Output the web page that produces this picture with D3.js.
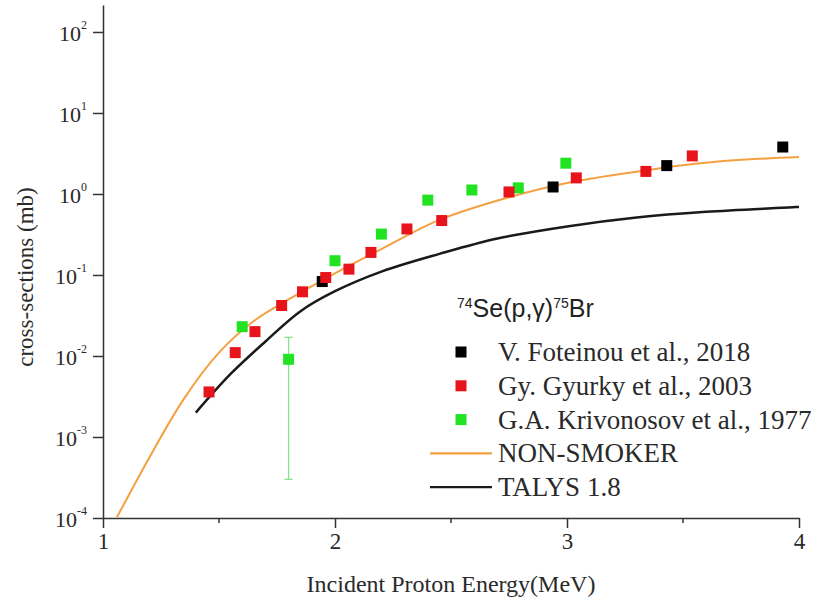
<!DOCTYPE html>
<html>
<head>
<meta charset="utf-8">
<script src="https://cdn.jsdelivr.net/npm/d3@7"></script>
<style>
  body { margin: 0; background: #fff; }
  svg { display: block; }
  .axis path, .axis line { stroke: #333; stroke-width: 1.5; }
  .axis text { font-family: "Liberation Serif", serif; fill: #2a2a2a; }
</style>
</head>
<body>
<div class="container"></div>
<script>
// V. Foteinou et al., 2018
var fotEnergy = [1.945, 2.94, 3.43, 3.93];
var fotSigma = [0.083, 1.22, 2.24, 3.8];
// Gy. Gyurky et al., 2003
var gyuEnergy = [1.457, 1.57, 1.655, 1.77, 1.86, 1.96, 2.06, 2.155, 2.31, 2.46, 2.75, 3.04, 3.34, 3.54];
var gyuSigma = [0.0036, 0.011, 0.020, 0.042, 0.062, 0.093, 0.118, 0.19, 0.37, 0.47, 1.06, 1.58, 1.9, 2.95];
// G.A. Krivonosov et al., 1977
var kriEnergy = [1.60, 1.80, 2.0, 2.20, 2.40, 2.59, 2.79, 2.995];
var kriSigma = [0.023, 0.0091, 0.15, 0.32, 0.84, 1.12, 1.19, 2.4];
var kriErrLow = [null, 0.0003, null, null, null, null, null, null];
var kriErrHigh = [null, 0.017, null, null, null, null, null, null];
// model curves
var nonSmokerEnergy = [1.06, 1.2, 1.35, 1.5, 1.65, 1.8, 2.0, 2.2, 2.45, 2.75, 3.0, 3.35, 3.65, 4.0];
var nonSmokerSigma = [1.02e-4, 5.6e-4, 3.0e-3, 0.011, 0.027, 0.050, 0.105, 0.209, 0.479, 0.912, 1.37, 1.98, 2.51, 2.86];
var talysEnergy = [1.40, 1.55, 1.70, 1.85, 2.0, 2.2, 2.45, 2.7, 3.0, 3.3, 3.6, 4.0];
var talysSigma = [0.0020, 0.0060, 0.0151, 0.0355, 0.063, 0.110, 0.182, 0.282, 0.398, 0.513, 0.603, 0.692];

var xTicks = [1, 2, 3, 4];
var xMinorTicks = [1.5, 2.5, 3.5];
var yExponents = [-4, -3, -2, -1, 0, 1, 2];

const WIDTH = 818;
const HEIGHT = 606;
const LEFT = 103, RIGHT = 799, TOP = 5, BOTTOM = 518;
const BLACK = '#000', RED = '#e8141b', GREEN = '#21e321';
const ORANGE = '#f5a040', DARK = '#1a1a1a';

var zip = function (xs, ys) {
    return xs.map(function (x, i) { return {x: x, y: ys[i], i: i}; });
};

var svg = d3.select('.container').append('svg')
    .attr('width', WIDTH)
    .attr('height', HEIGHT);

var xScale = d3.scaleLinear().domain([1, 4]).range([LEFT, RIGHT]);
var yScale = d3.scaleLog().domain([1e-4, Math.pow(10, 2.333)]).range([BOTTOM, TOP]);

// axes
var xAxis = svg.append('g').classed('axis', true)
    .attr('transform', 'translate(0,' + BOTTOM + ')')
    .call(d3.axisBottom(xScale).tickValues(xTicks).tickSize(10).tickSizeOuter(0).tickFormat(d3.format('d')));
xAxis.selectAll('text').attr('font-size', 23).attr('y', 14).attr('dy', '0.75em');

xAxis.selectAll('.minor')
    .data(xMinorTicks)
    .enter().append('line')
    .classed('minor', true)
    .attr('x1', function (d) { return xScale(d); })
    .attr('x2', function (d) { return xScale(d); })
    .attr('y1', 0).attr('y2', 5);

var yAxis = svg.append('g').classed('axis', true)
    .attr('transform', 'translate(' + LEFT + ',0)')
    .call(d3.axisLeft(yScale)
        .tickValues(yExponents.map(function (e) { return Math.pow(10, e); }))
        .tickSize(10).tickSizeOuter(0).tickFormat(''));

yAxis.selectAll('.tick').each(function (d) {
    var t = d3.select(this).append('text')
        .attr('x', -16).attr('dy', '0.38em')
        .attr('text-anchor', 'end')
        .attr('font-size', 22);
    t.append('tspan').text('10');
    t.append('tspan').attr('font-size', 12).attr('dy', '-0.95em').text(Math.round(Math.log10(d)));
});

svg.append('text')
    .attr('transform', 'translate(33,' + 277 + ') rotate(-90)')
    .attr('text-anchor', 'middle')
    .attr('font-family', '"Liberation Serif", serif')
    .attr('font-size', 23)
    .attr('fill', '#2a2a2a')
    .text('cross-sections (mb)');

svg.append('text')
    .attr('x', (LEFT + RIGHT) / 2)
    .attr('y', 592)
    .attr('text-anchor', 'middle')
    .attr('font-family', '"Liberation Serif", serif')
    .attr('font-size', 24)
    .attr('fill', '#2a2a2a')
    .text('Incident Proton Energy(MeV)');

// model curves
var line = d3.line()
    .x(function (d) { return xScale(d.x); })
    .y(function (d) { return yScale(d.y); })
    .curve(d3.curveCatmullRom.alpha(0.5));

svg.append('path')
    .datum(zip(nonSmokerEnergy, nonSmokerSigma))
    .attr('d', line)
    .attr('fill', 'none')
    .attr('stroke', ORANGE)
    .attr('stroke-width', 2);

svg.append('path')
    .datum(zip(talysEnergy, talysSigma))
    .attr('d', line)
    .attr('fill', 'none')
    .attr('stroke', DARK)
    .attr('stroke-width', 2.5);

// error bars
var errs = zip(kriEnergy, kriSigma).filter(function (d) { return kriErrLow[d.i] != null; });
var errG = svg.append('g').attr('stroke', '#8be08b').attr('stroke-width', 1.3);
errs.forEach(function (d) {
    var cx = xScale(d.x), lo = yScale(kriErrLow[d.i]), hi = yScale(kriErrHigh[d.i]);
    errG.append('line').attr('x1', cx).attr('x2', cx).attr('y1', lo).attr('y2', hi);
    errG.append('line').attr('x1', cx - 4).attr('x2', cx + 4).attr('y1', lo).attr('y2', lo);
    errG.append('line').attr('x1', cx - 4).attr('x2', cx + 4).attr('y1', hi).attr('y2', hi);
});

var SQ = 11;
var addSquares = function (points, color) {
    svg.append('g').selectAll('rect')
        .data(points)
        .enter().append('rect')
        .attr('x', function (d) { return xScale(d.x) - SQ / 2; })
        .attr('y', function (d) { return yScale(d.y) - SQ / 2; })
        .attr('width', SQ).attr('height', SQ)
        .attr('fill', color);
};
addSquares(zip(kriEnergy, kriSigma), GREEN);
addSquares(zip(fotEnergy, fotSigma), BLACK);
addSquares(zip(gyuEnergy, gyuSigma), RED);

// legend
var legend = svg.append('g');
var title = legend.append('text')
    .attr('x', 457).attr('y', 317)
    .attr('font-family', '"Liberation Sans", Arial, sans-serif')
    .attr('font-size', 25)
    .attr('fill', '#222');
title.append('tspan').attr('font-size', 14).attr('dy', -9).text('74');
title.append('tspan').attr('dy', 9).text('Se(p,\u03b3)');
title.append('tspan').attr('font-size', 14).attr('dy', -9).text('75');
title.append('tspan').attr('dy', 9).text('Br');

var legendItems = [
    {label: 'V. Foteinou et al., 2018', color: BLACK, kind: 'square'},
    {label: 'Gy. Gyurky et al., 2003', color: RED, kind: 'square'},
    {label: 'G.A. Krivonosov et al., 1977', color: GREEN, kind: 'square'},
    {label: 'NON-SMOKER', color: ORANGE, kind: 'line'},
    {label: 'TALYS 1.8', color: DARK, kind: 'line'}
];
legendItems.forEach(function (item, i) {
    var base = 361 + i * 33.8;
    if (item.kind == 'square') {
        legend.append('rect')
            .attr('x', 461 - SQ / 2).attr('y', base - 9 - SQ / 2)
            .attr('width', SQ).attr('height', SQ)
            .attr('fill', item.color);
    } else {
        legend.append('line')
            .attr('x1', 430).attr('x2', 492)
            .attr('y1', base - 9).attr('y2', base - 9)
            .attr('stroke', item.color).attr('stroke-width', 2.2);
    }
    legend.append('text')
        .attr('x', 498).attr('y', base)
        .attr('font-family', '"Liberation Serif", serif')
        .attr('font-size', 27)
        .attr('fill', '#2a2a2a')
        .text(item.label);
});
</script>
</body>
</html>
